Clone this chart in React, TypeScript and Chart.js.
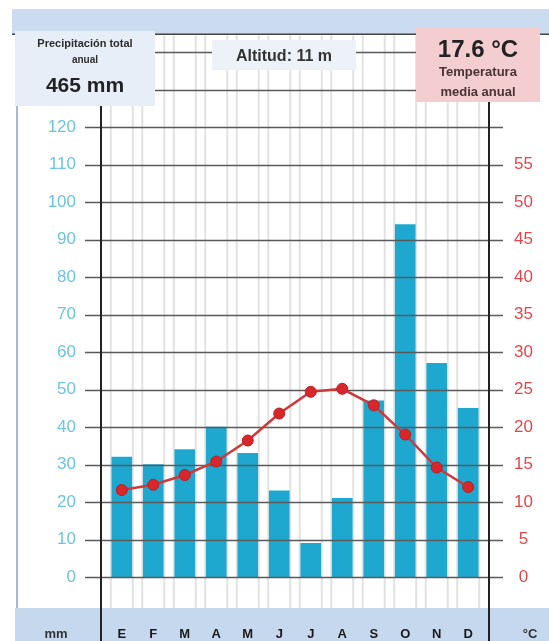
import React, { useEffect, useRef } from 'react';
import { Chart, registerables } from 'chart.js';

Chart.register(...registerables);

const months = ['E', 'F', 'M', 'A', 'M', 'J', 'J', 'A', 'S', 'O', 'N', 'D'];
const precipitation = [32, 30, 34, 40, 33, 23, 9, 21, 47, 94, 57, 45];
const temperature = [11.6, 12.3, 13.6, 15.4, 18.2, 21.8, 24.7, 25.1, 22.9, 19.0, 14.6, 12.0];
const precipTicks = [0, 10, 20, 30, 40, 50, 60, 70, 80, 90, 100, 110, 120];
const tempTicks = [0, 5, 10, 15, 20, 25, 30, 35, 40, 45, 50, 55];
const gridLevels = [0, 10, 20, 30, 40, 50, 60, 70, 80, 90, 100, 110, 120, 130, 140];

const FONT = '"Liberation Sans", Arial, sans-serif';

const decor = {
  id: 'decor',
  beforeDraw(chart: any) {
    const { ctx, width, height, chartArea } = chart;
    const xs = chart.scales.x;
    ctx.save();
    ctx.fillStyle = '#ffffff';
    ctx.fillRect(0, 0, width, height);
    ctx.fillStyle = '#cbdcf0';
    ctx.fillRect(12, 9, width - 12, chartArea.top - 10);
    const bandTop = chartArea.bottom + 31;
    ctx.fillStyle = '#c6d8ee';
    ctx.fillRect(15, bandTop, width - 15, height - bandTop);
    ctx.strokeStyle = '#a9b9cf';
    ctx.lineWidth = 2;
    ctx.beginPath();
    ctx.moveTo(17, chartArea.top - 1);
    ctx.lineTo(17, bandTop);
    ctx.stroke();
    ctx.strokeStyle = '#e2e2e2';
    ctx.lineWidth = 2;
    months.forEach((_, i) => {
      const c = xs.getPixelForValue(i);
      [-11, 11].forEach((off) => {
        ctx.beginPath();
        ctx.moveTo(c + off, chartArea.top);
        ctx.lineTo(c + off, bandTop);
        ctx.stroke();
      });
    });
    ctx.restore();
  },
  beforeDatasetDraw(chart: any, args: any) {
    if (args.index !== 1) return;
    const { ctx, chartArea } = chart;
    const ys = chart.scales.y;
    ctx.save();
    ctx.strokeStyle = '#5a5a5a';
    ctx.lineWidth = 1.5;
    gridLevels.forEach((v) => {
      const y = Math.round(ys.getPixelForValue(v)) + 0.5;
      ctx.beginPath();
      ctx.moveTo(chartArea.left - 16, y);
      ctx.lineTo(chartArea.right + 14, y);
      ctx.stroke();
    });
    ctx.restore();
  },
  afterDraw(chart: any) {
    const { ctx, width, height, chartArea } = chart;
    ctx.save();
    ctx.strokeStyle = '#444';
    ctx.lineWidth = 1.5;
    ctx.beginPath();
    ctx.moveTo(12, chartArea.top - 1);
    ctx.lineTo(width, chartArea.top - 1);
    ctx.stroke();
    ctx.strokeStyle = '#222';
    ctx.lineWidth = 2;
    [chartArea.left, chartArea.right].forEach((x) => {
      ctx.beginPath();
      ctx.moveTo(x, chartArea.top - 3);
      ctx.lineTo(x, height);
      ctx.stroke();
    });
    ctx.restore();
  },
};

function CenterLine(props: { top: number; size: number; color?: string; text: string }) {
  return (
    <div
      style={{
        position: 'absolute',
        left: 0,
        right: 0,
        top: props.top,
        textAlign: 'center',
        fontFamily: FONT,
        fontWeight: 'bold',
        fontSize: props.size,
        lineHeight: `${props.size + 2}px`,
        color: props.color || '#2d2d2d',
        whiteSpace: 'nowrap',
      }}
    >
      {props.text}
    </div>
  );
}

export default function App() {
  const ref = useRef<HTMLCanvasElement | null>(null);

  useEffect(() => {
    if (!ref.current) return;
    const chart = new Chart(ref.current, {
      type: 'bar',
      data: {
        datasets: [
          {
            type: 'bar',
            data: months.map((_, i) => ({ x: i, y: precipitation[i] })),
            backgroundColor: '#1fa8cf',
            barThickness: 20,
            yAxisID: 'y',
            order: 1,
          } as any,
          {
            type: 'line',
            data: months.map((_, i) => ({ x: i, y: temperature[i] })),
            borderColor: '#cc3a3c',
            borderWidth: 2.5,
            pointRadius: 5.5,
            pointBackgroundColor: '#d8262b',
            pointBorderColor: '#b81f24',
            pointBorderWidth: 1,
            tension: 0,
            yAxisID: 'y2',
            order: 0,
          } as any,
        ],
      },
      options: {
        responsive: false,
        animation: false,
        layout: { padding: { top: 26, left: 0, right: 0, bottom: 0 } },
        plugins: { legend: { display: false }, tooltip: { enabled: false } },
        scales: {
          x: {
            type: 'linear',
            offset: false,
            min: -0.66,
            max: 11.66,
            afterBuildTicks: (s: any) => {
              s.ticks = months.map((_, i) => ({ value: i }));
            },
            afterFit: (s: any) => {
              s.height = 64;
            },
            grid: { display: false, drawTicks: false, offset: false },
            border: { display: false },
            ticks: {
              autoSkip: false,
              maxRotation: 0,
              padding: 50,
              color: '#1a1a1a',
              font: { family: FONT, size: 13, weight: 'bold' },
              callback: (v: any) => months[v] ?? '',
            },
          },
          y: {
            position: 'left',
            min: 0,
            max: 144.5,
            afterBuildTicks: (s: any) => {
              s.ticks = precipTicks.map((v) => ({ value: v }));
            },
            afterFit: (s: any) => {
              s.width = 101;
            },
            grid: { display: false, drawTicks: false },
            border: { display: false },
            ticks: {
              padding: 25,
              color: '#6cc4dd',
              font: { family: FONT, size: 17 },
            },
          },
          y2: {
            position: 'right',
            min: 0,
            max: 72.25,
            afterBuildTicks: (s: any) => {
              s.ticks = tempTicks.map((v) => ({ value: v }));
            },
            afterFit: (s: any) => {
              s.width = 60;
            },
            grid: { display: false, drawTicks: false },
            border: { display: false },
            ticks: {
              padding: 25,
              crossAlign: 'center',
              color: '#e0474c',
              font: { family: FONT, size: 17 },
            },
          },
        },
      } as any,
      plugins: [decor],
    });
    return () => chart.destroy();
  }, []);

  return (
    <div style={{ position: 'fixed', left: 0, top: 0, width: 549, height: 641, overflow: 'hidden', background: '#fff' }}>
      <canvas ref={ref} width={549} height={641} style={{ display: 'block', width: 549, height: 641 }} />
      <div style={{ position: 'absolute', left: 15, top: 31, width: 140, height: 75, background: '#e8eef7' }}>
        <CenterLine top={6} size={11} text="Precipitación total" />
        <CenterLine top={23} size={10} text="anual" />
        <CenterLine top={42} size={21} color="#222" text="465 mm" />
      </div>
      <div style={{ position: 'absolute', left: 212, top: 40, width: 144, height: 30, background: '#edf1f8' }}>
        <CenterLine top={7} size={16} color="#333" text="Altitud: 11 m" />
      </div>
      <div style={{ position: 'absolute', left: 416, top: 27, width: 124, height: 75, background: '#f3cdd0' }}>
        <CenterLine top={9} size={24} color="#222" text="17.6 °C" />
        <CenterLine top={37} size={13} color="#4a3434" text="Temperatura" />
        <CenterLine top={57} size={13} color="#4a3434" text="media anual" />
      </div>
      <div style={{ position: 'absolute', left: 34, top: 626, width: 44, textAlign: 'center', fontFamily: FONT, fontWeight: 'bold', fontSize: 13, color: '#333' }}>
        mm
      </div>
      <div style={{ position: 'absolute', left: 512, top: 626, width: 36, textAlign: 'center', fontFamily: FONT, fontWeight: 'bold', fontSize: 13, color: '#333' }}>
        °C
      </div>
    </div>
  );
}
